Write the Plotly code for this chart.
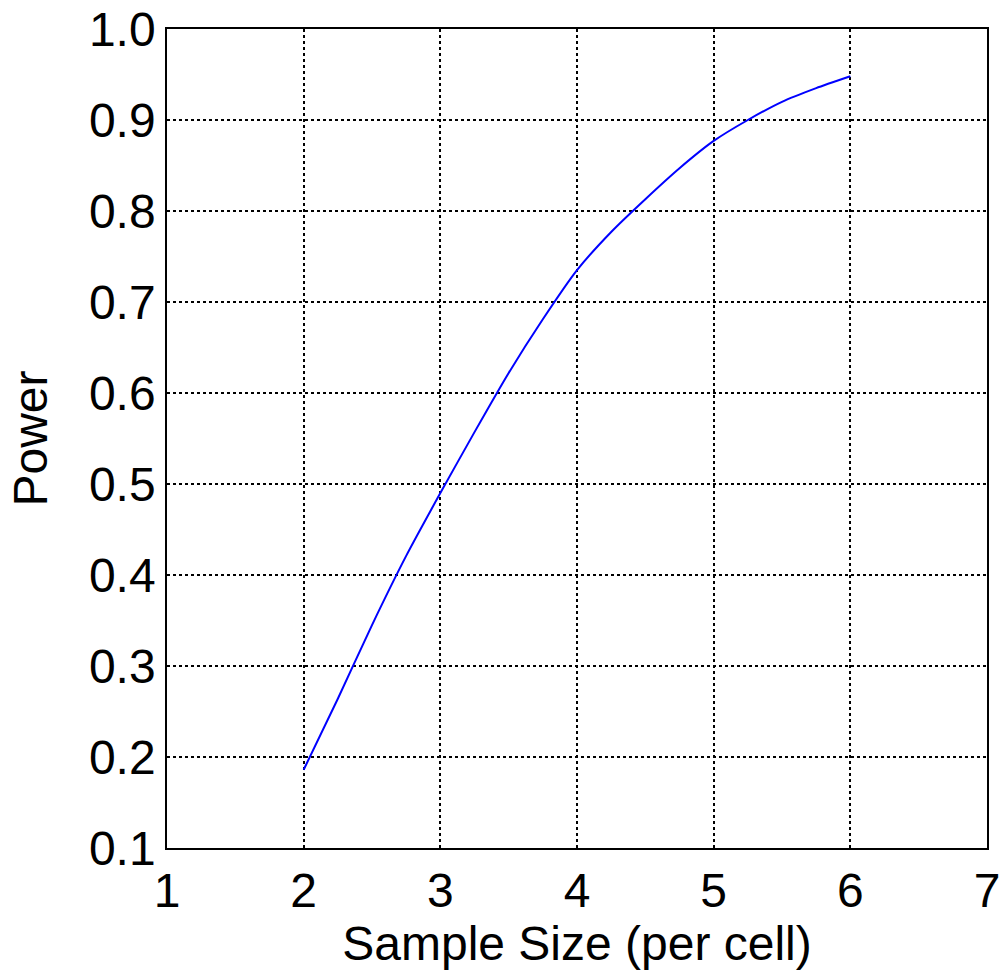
import plotly.graph_objects as go

sample_size = [2.0, 2.25, 2.5, 2.75, 3.0, 3.25, 3.5, 3.75, 4.0, 4.25, 4.5, 4.75, 5.0, 5.25, 5.5, 5.75, 6.0]
power = [0.186, 0.264, 0.345, 0.421, 0.490, 0.557, 0.622, 0.681, 0.735, 0.777, 0.813, 0.847, 0.877, 0.900, 0.920, 0.935, 0.948]

x_ticks = [1, 2, 3, 4, 5, 6, 7]
y_ticks = [0.1, 0.2, 0.3, 0.4, 0.5, 0.6, 0.7, 0.8, 0.9, 1.0]
y_labels = [f"{v:.1f}" for v in y_ticks]

fig = go.Figure()
fig.add_trace(go.Scatter(x=sample_size, y=power, mode="lines",
                         line=dict(color="#0000ff", width=2, shape="spline", smoothing=0.6),
                         showlegend=False))

font = dict(family="Liberation Sans, Arial, sans-serif", size=48, color="black")

fig.update_layout(
    width=1005, height=978,
    margin=dict(l=167, r=18, t=29, b=130, autoexpand=False),
    paper_bgcolor="white", plot_bgcolor="white",
    font=font,
    xaxis=dict(range=[1, 7], tickvals=x_ticks, showgrid=True, gridcolor="black",
               griddash="dot", gridwidth=1.5, showline=True, linecolor="black",
               linewidth=1.5, mirror=True, zeroline=False, ticks="", automargin=False,
               ticklabeloverflow="allow",
               tickfont=font, title=dict(text="Sample Size (per cell)", font=font, standoff=6)),
    yaxis=dict(range=[0.1, 1.0], tickvals=y_ticks, ticktext=y_labels, showgrid=True,
               gridcolor="black", griddash="dot", gridwidth=1.5, showline=True,
               linecolor="black", linewidth=1.5, mirror=True, zeroline=False, ticks="",
               automargin=False, ticklabeloverflow="allow",
               tickfont=font, title=dict(text="Power", font=font, standoff=26)),
)

fig.write_html("out.html", config={"displayModeBar": False},
               post_script="document.body.style.margin='0';")
